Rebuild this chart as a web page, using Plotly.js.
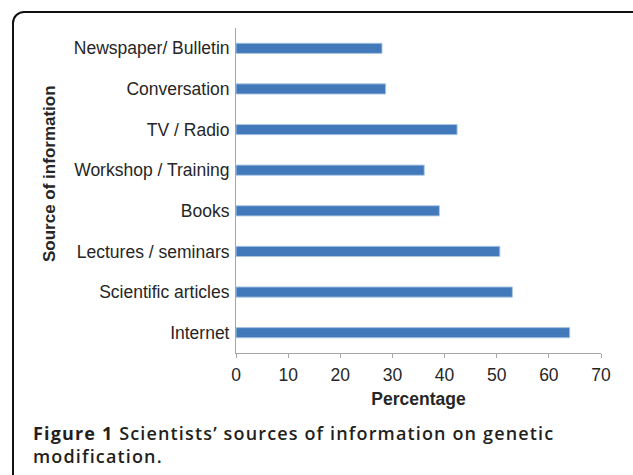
<!DOCTYPE html>
<html>
<head>
<meta charset="utf-8">
<script src="https://cdn.plot.ly/plotly-3.0.1.min.js"></script>
<style>
  html, body { margin: 0; padding: 0; background: #ffffff; overflow: hidden; }
  #wrap { position: relative; width: 633px; height: 475px; }
  #chart { position: absolute; left: 0; top: 0; width: 633px; height: 475px; }
  #frame { position: absolute; left: 12px; top: 11px; width: 640px; height: 520px;
           box-sizing: border-box; border: 2px solid #111; border-radius: 12px; pointer-events: none; }
  g.annotation[data-index="1"] text { letter-spacing: 1.15px; }
</style>
</head>
<body>
<div id="wrap">
  <div id="chart"></div>
  <div id="frame"></div>
</div>
<script>
// Data (bottom to top, as drawn)
const categories = ["Internet", "Scientific articles", "Lectures / seminars", "Books",
                    "Workshop / Training", "TV / Radio", "Conversation", "Newspaper/ Bulletin"];
const percentages = [64, 53, 50.6, 39, 36.1, 42.4, 28.7, 28];
const xTickValues = [0, 10, 20, 30, 40, 50, 60, 70];

const W = 633, H = 475;
const M = { l: 236, r: 32, t: 28, b: 122 };
const plotW = W - M.l - M.r, plotH = H - M.t - M.b;
const px2x = p => (p - M.l) / plotW;
const px2y = p => (H - M.b - p) / plotH;

const textColor = "#262626";
const axisColor = "#a6a6a6";
const labelFont = { family: "Liberation Sans, Arial, sans-serif", size: 17.5, color: textColor };

const trace = {
  type: "bar",
  orientation: "h",
  y: categories,
  x: percentages,
  width: 0.25,
  marker: { color: "#4179ba", line: { color: "rgba(170,198,230,0.9)", width: 1 } },
  hoverinfo: "none"
};

const layout = {
  width: W, height: H,
  margin: M,
  paper_bgcolor: "#ffffff",
  plot_bgcolor: "#ffffff",
  showlegend: false,
  font: labelFont,
  xaxis: {
    range: [0, 70],
    tickvals: xTickValues,
    ticktext: xTickValues.map(String),
    showgrid: false, zeroline: false,
    showline: true, linecolor: axisColor, linewidth: 1,
    ticks: "outside", ticklen: 4, tickcolor: axisColor,
    ticklabelstandoff: 2,
    tickfont: labelFont,
    title: { text: "<b>Percentage</b>", font: { family: "Liberation Sans, Arial, sans-serif", size: 17.5, color: textColor }, standoff: 8 },
    fixedrange: true
  },
  yaxis: {
    type: "category",
    categoryorder: "array",
    categoryarray: categories,
    range: [-0.5, 7.5],
    showgrid: false, zeroline: false,
    showline: true, linecolor: axisColor, linewidth: 1,
    ticks: "",
    ticklabelstandoff: 2,
    tickfont: labelFont,
    fixedrange: true
  },
  annotations: [
    {
      text: "<b>Source of information</b>",
      xref: "paper", yref: "paper",
      x: px2x(49), y: px2y(174),
      xanchor: "center", yanchor: "middle",
      textangle: -90, showarrow: false,
      font: { family: "Liberation Sans, Arial, sans-serif", size: 17, color: textColor }
    },
    {
      text: "<b>Figure 1</b> Scientists’ sources of information on genetic<br>modification.",
      xref: "paper", yref: "paper",
      x: px2x(31), y: px2y(419),
      xanchor: "left", yanchor: "top", align: "left",
      showarrow: false,
      font: { family: "Open Sans, Noto Sans, sans-serif", size: 18, weight: 600, color: "#231f20" }
    }
  ]
};

Plotly.newPlot("chart", [trace], layout, { displayModeBar: false, staticPlot: true });
</script>
</body>
</html>
